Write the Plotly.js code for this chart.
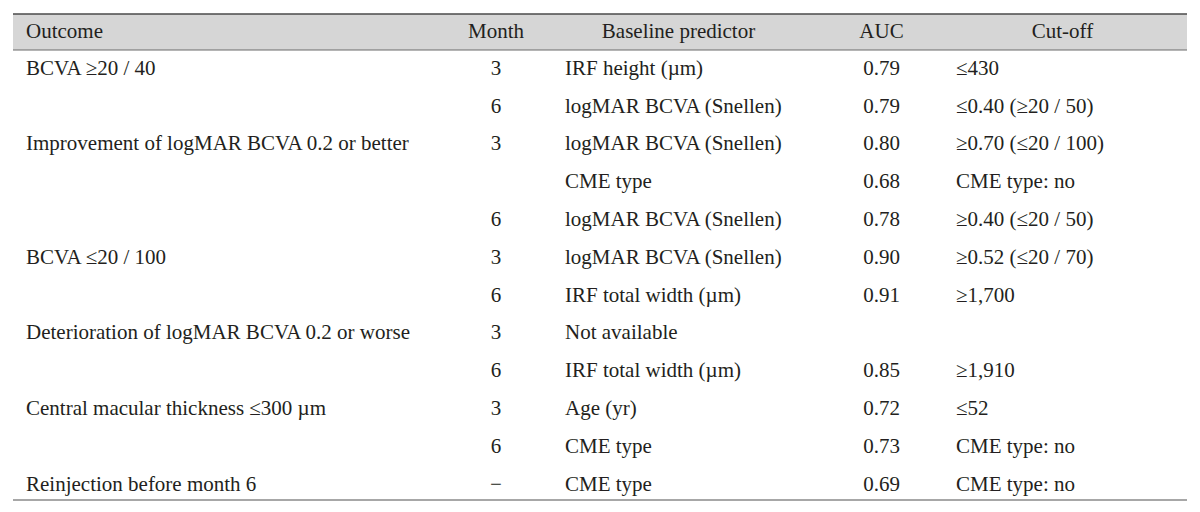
<!DOCTYPE html>
<html>
<head>
<meta charset="utf-8">
<script src="https://cdn.plot.ly/plotly-3.0.1.min.js"></script>
<style>
  html, body { margin: 0; padding: 0; background: #fff; }
  #chart { width: 1200px; height: 512px; }
</style>
</head>
<body>
<div id="chart"></div>
<script>
// Table columns, one array per column
var headers = ["Outcome", "Month", "Baseline predictor", "AUC", "Cut-off"];

var outcome = [
  "BCVA ≥20 / 40", "",
  "Improvement of logMAR BCVA 0.2 or better", "", "",
  "BCVA ≤20 / 100", "",
  "Deterioration of logMAR BCVA 0.2 or worse", "",
  "Central macular thickness ≤300 µm", "",
  "Reinjection before month 6"
];
var month = ["3", "6", "3", "", "6", "3", "6", "3", "6", "3", "6", "−"];
var predictor = [
  "IRF height (µm)", "logMAR BCVA (Snellen)", "logMAR BCVA (Snellen)", "CME type",
  "logMAR BCVA (Snellen)", "logMAR BCVA (Snellen)", "IRF total width (µm)", "Not available",
  "IRF total width (µm)", "Age (yr)", "CME type", "CME type"
];
var auc = ["0.79", "0.79", "0.80", "0.68", "0.78", "0.90", "0.91", "", "0.85", "0.72", "0.73", "0.69"];
var cutoff = [
  "≤430", "≤0.40 (≥20 / 50)", "≥0.70 (≤20 / 100)", "CME type: no", "≥0.40 (≤20 / 50)",
  "≥0.52 (≤20 / 70)", "≥1,700", "", "≥1,910", "≤52", "CME type: no", "CME type: no"
];

var W = 1200, H = 512;
var TOP = 14, HEAD = 37, ROW = 37.8, BOTTOM = 500;
var FONT = { family: "Liberation Serif, Times New Roman, serif", size: 21, color: "#231f20" };

function px(x) { return x / W; }
function py(y) { return 1 - y / H; }

// each column is its own table trace so header/cell alignment can differ
var cols = [
  { vals: outcome,   x0: 18,  x1: 450,  hAlign: "left",   cAlign: "left" },
  { vals: month,     x0: 446, x1: 546,  hAlign: "center", cAlign: "center" },
  { vals: predictor, x0: 557, x1: 801,  hAlign: "center", cAlign: "left" },
  { vals: auc,       x0: 832, x1: 932,  hAlign: "center", cAlign: "center" },
  { vals: cutoff,    x0: 948, x1: 1178, hAlign: "center", cAlign: "left" }
];

var traces = cols.map(function (c, i) {
  return {
    type: "table",
    domain: { x: [px(c.x0), px(c.x1)], y: [py(510), py(TOP)] },
    header: {
      values: [headers[i]],
      align: c.hAlign,
      height: HEAD,
      font: FONT,
      fill: { color: "rgba(0,0,0,0)" },
      line: { width: 0, color: "rgba(0,0,0,0)" }
    },
    cells: {
      values: [c.vals],
      align: c.cAlign,
      height: ROW,
      font: FONT,
      fill: { color: "rgba(0,0,0,0)" },
      line: { width: 0, color: "rgba(0,0,0,0)" }
    }
  };
});

var layout = {
  width: W, height: H,
  margin: { l: 0, r: 0, t: 0, b: 0 },
  paper_bgcolor: "#ffffff",
  showlegend: false,
  shapes: [
    { type: "rect", xref: "paper", yref: "paper", layer: "below",
      x0: px(13), x1: px(1187), y0: py(50), y1: py(TOP),
      fillcolor: "#d6d6d6", line: { width: 0 } },
    { type: "line", xref: "paper", yref: "paper", x0: px(13), x1: px(1187), y0: py(TOP), y1: py(TOP),
      line: { color: "#4a4a4a", width: 1.5 } },
    { type: "line", xref: "paper", yref: "paper", x0: px(13), x1: px(1187), y0: py(50), y1: py(50),
      line: { color: "#6a6a6a", width: 1 } },
    { type: "line", xref: "paper", yref: "paper", x0: px(13), x1: px(1187), y0: py(BOTTOM), y1: py(BOTTOM),
      line: { color: "#8a8a8a", width: 1.5 } }
  ]
};

Plotly.newPlot("chart", traces, layout, { displayModeBar: false, staticPlot: true });
</script>
</body>
</html>
